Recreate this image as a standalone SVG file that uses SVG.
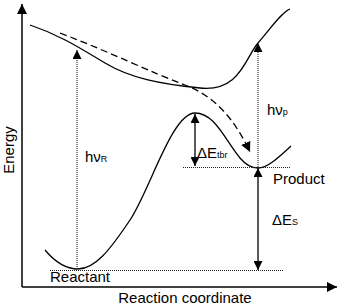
<svg xmlns="http://www.w3.org/2000/svg" width="340" height="306" viewBox="0 0 340 306">
<style>
text{font-family:"Liberation Sans",Arial,sans-serif;font-size:15px;fill:#000}
.sub{font-size:9px}
.curve{fill:none;stroke:#000;stroke-width:1.3}
.dot{fill:none;stroke:#222;stroke-width:1.1;stroke-dasharray:1,1}
.solid{fill:none;stroke:#000;stroke-width:1.3}
.axis{fill:none;stroke:#000;stroke-width:1.5}
</style>
<defs>
<marker id="ah" viewBox="0 0 10 10" refX="10" refY="5" markerWidth="9" markerHeight="9" markerUnits="userSpaceOnUse" orient="auto-start-reverse"><path d="M0,0 L10,5 L0,10 z" fill="#000"/></marker>
<marker id="ahd" viewBox="0 0 10 10" refX="10" refY="5" markerWidth="10" markerHeight="10" markerUnits="userSpaceOnUse" orient="auto"><path d="M0,0 L10,5 L0,10 z" fill="#000"/></marker>
</defs>
<g id="axes">
<path class="axis" d="M22,287 V4" marker-end="url(#ahd)"/>
<path class="axis" d="M22,287 H337" marker-end="url(#ahd)"/>
<text x="0" y="0" transform="translate(14,150) rotate(-90)" text-anchor="middle">Energy</text>
<text x="185" y="303" text-anchor="middle">Reaction coordinate</text>
</g>
<g id="excited-curve">
<path class="curve" d="M30,25 C60,35 80,48 105,63 S160,84 200,88 S245,58 258,43 S282,12 290,9"/>
</g>
<g id="ground-curve">
<path class="curve" d="M45,250 C55,262 66,269 78,269 C95,269 110,250 130,220 C150,190 172,113 195,113 C215,113 225,140 240,158 C245,164 252,168 258,168 C268,168 280,156 291,146"/>
</g>
<g id="connectors">
<path class="curve" d="M60,33 C110,52 150,72 185,85 C215,96 235,120 250,152" stroke-dasharray="7,4" marker-end="url(#ahd)"/>
<path class="dot" d="M77,269 V50" marker-end="url(#ah)"/>
<path class="dot" d="M258,167 V43" marker-end="url(#ah)"/>
<path class="dot" d="M183,167.5 H290"/>
<path class="dot" d="M50,270.5 H284"/>
<path class="solid" d="M258,168 V270" marker-start="url(#ah)" marker-end="url(#ah)"/>
<path class="solid" d="M195,114 V166" marker-start="url(#ah)" marker-end="url(#ah)"/>
</g>
<g id="label-reactant"><text x="50" y="282">Reactant</text></g>
<g id="label-product"><text x="273" y="184">Product</text></g>
<g id="label-hvr"><text x="85" y="162">hν<tspan class="sub">R</tspan></text></g>
<g id="label-hvp"><text x="267" y="115">hν<tspan class="sub">p</tspan></text></g>
<g id="label-dets"><text x="272" y="225">ΔE<tspan class="sub">S</tspan></text></g>
<g id="label-detbr"><text x="197" y="158">ΔE<tspan class="sub">tbr</tspan></text></g>
</svg>
